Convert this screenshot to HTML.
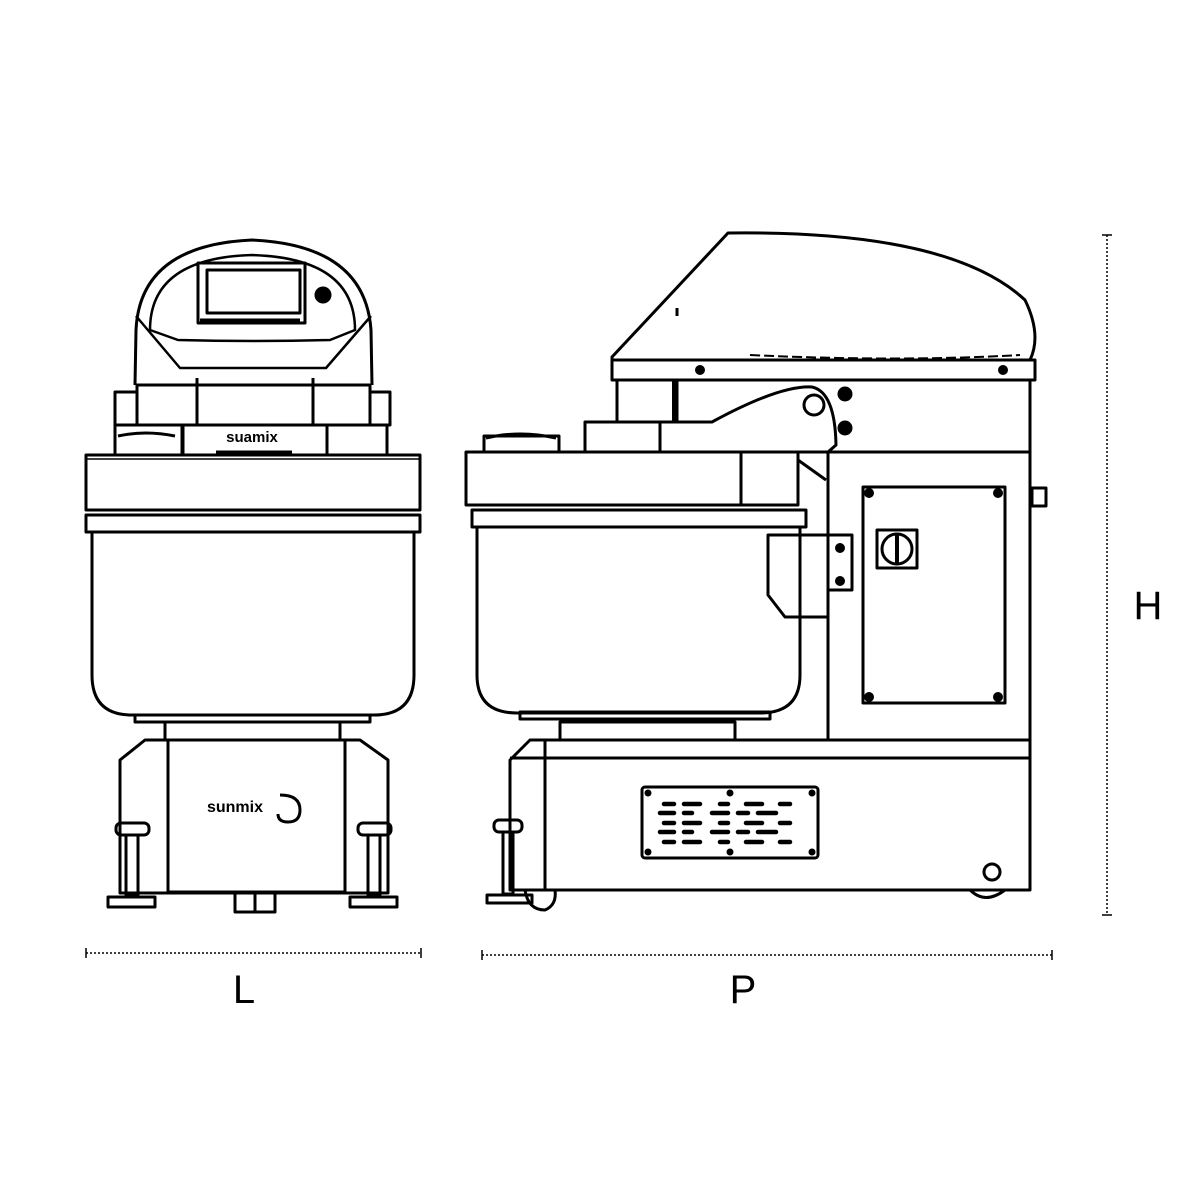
<!DOCTYPE html>
<html><head><style>html,body{margin:0;padding:0;background:#fff}svg{display:block}</style></head>
<body>
<svg width="1200" height="1200" viewBox="0 0 1200 1200" xmlns="http://www.w3.org/2000/svg" fill="none" stroke="#000" stroke-width="3" stroke-linejoin="round">
<!-- LEFT VIEW -->
<path d="M135,385 L136,330 Q140,245 252,240 Q365,245 371,330 L372,385"/>
<path d="M150,330 Q150,258 252,255 Q355,258 355,330 L330,340 Q252,342 178,340 Z" stroke-width="2.5"/>
<path d="M136,316 L180,368 L326,368 L371,316" stroke-width="2.5"/>
<rect x="198" y="263" width="107" height="60"/>
<rect x="207" y="270" width="93" height="43"/>
<line x1="200" y1="320" x2="300" y2="320"/>
<circle cx="323" cy="295" r="7" fill="#000"/>
<rect x="137" y="385" width="233" height="40"/>
<line x1="197" y1="378" x2="197" y2="425"/><line x1="313" y1="378" x2="313" y2="425"/>
<rect x="115" y="392" width="22" height="33"/><rect x="370" y="392" width="20" height="33"/>
<rect x="115" y="425" width="68" height="30"/><rect x="327" y="425" width="60" height="30"/>
<rect x="182" y="425" width="145" height="30"/>
<path d="M118,436 Q145,430 175,436"/>
<text x="252" y="442" font-family="Liberation Sans,sans-serif" font-size="15" font-weight="bold" fill="#000" stroke="none" text-anchor="middle">suamix</text>
<line x1="216" y1="452" x2="292" y2="452"/>
<rect x="86" y="455" width="334" height="55"/>
<line x1="86" y1="459" x2="420" y2="459" stroke-width="1.5"/>
<rect x="86" y="515" width="334" height="17"/>
<path d="M92,532 L92,675 Q92,715 132,715 L374,715 Q414,715 414,675 L414,532"/>
<rect x="135" y="715" width="235" height="7"/>
<rect x="165" y="722" width="175" height="18"/>
<path d="M120,893 L120,760 L145,740 L360,740 L388,760 L388,893 Z"/>
<rect x="168" y="740" width="177" height="152"/>
<text x="235" y="812" font-family="Liberation Sans,sans-serif" font-size="16" font-weight="bold" fill="#000" stroke="none" text-anchor="middle">sunmix</text>
<path d="M280,795 q20,0 20,15 q0,12 -12,12 q-10,0 -10,-8" stroke-width="3"/>
<rect x="116" y="823" width="33" height="12" rx="5" stroke-width="3"/>
<rect x="358" y="823" width="33" height="12" rx="5" stroke-width="3"/>
<rect x="126" y="835" width="12" height="60"/><rect x="368" y="835" width="12" height="60"/>
<rect x="108" y="897" width="47" height="10"/><rect x="350" y="897" width="47" height="10"/>
<rect x="235" y="892" width="40" height="20"/><line x1="255" y1="892" x2="255" y2="912"/>
<!-- RIGHT VIEW -->
<path d="M612,380 L612,357 L728,233 Q950,230 1025,300 Q1042,335 1030,360 L612,360"/>
<path d="M750,355 Q900,362 1020,355" stroke-dasharray="10 4" stroke-width="2"/>
<line x1="677" y1="308" x2="677" y2="316"/>
<rect x="612" y="360" width="423" height="20"/>
<circle cx="700" cy="370" r="3.5" fill="#000"/><circle cx="1003" cy="370" r="3.5" fill="#000"/>
<rect x="617" y="380" width="60" height="42"/><line x1="674" y1="380" x2="674" y2="422" stroke-width="4"/>
<rect x="585" y="422" width="75" height="30"/>
<path d="M660,452 L660,422 L712,422 Q780,385 812,387 Q835,392 836,445 L828,452 Z"/>
<circle cx="814" cy="405" r="10"/>
<circle cx="845" cy="394" r="6" fill="#000"/><circle cx="845" cy="428" r="6" fill="#000"/>
<line x1="828" y1="452" x2="1030" y2="452"/>
<line x1="828" y1="452" x2="828" y2="740"/>
<line x1="1030" y1="380" x2="1030" y2="890"/>
<rect x="1032" y="488" width="14" height="18"/>
<rect x="863" y="487" width="142" height="216"/>
<circle cx="869" cy="493" r="3.5" fill="#000"/><circle cx="998" cy="493" r="3.5" fill="#000"/>
<circle cx="869" cy="697" r="3.5" fill="#000"/><circle cx="998" cy="697" r="3.5" fill="#000"/>
<rect x="877" y="530" width="40" height="38"/><circle cx="897" cy="549" r="15"/><line x1="897" y1="535" x2="897" y2="563" stroke-width="4"/>
<rect x="466" y="452" width="275" height="53"/>
<rect x="741" y="452" width="57" height="53"/>
<line x1="798" y1="460" x2="826" y2="480"/>
<rect x="484" y="436" width="75" height="16"/>
<path d="M486,438 Q520,430 556,438"/>
<rect x="472" y="510" width="334" height="17"/>
<path d="M477,527 L477,675 Q477,713 517,713 L760,713 Q800,713 800,675 L800,527"/>
<path d="M768,535 L852,535 L852,590 L828,590 L828,617 L785,617 L768,595 Z"/>
<circle cx="840" cy="548" r="3.5" fill="#000"/><circle cx="840" cy="581" r="3.5" fill="#000"/>
<rect x="520" y="712" width="250" height="7"/>
<rect x="560" y="722" width="175" height="18"/>
<path d="M510,890 L510,760 L530,740 L1030,740 L1030,890 Z"/>
<line x1="510" y1="758" x2="1030" y2="758"/>
<line x1="545" y1="740" x2="545" y2="890"/>
<rect x="642" y="787" width="176" height="71" rx="3"/>
<g fill="#000" stroke="none">
<circle cx="648" cy="793" r="3.5"/><circle cx="730" cy="793" r="3.5"/><circle cx="812" cy="793" r="3.5"/>
<circle cx="648" cy="852" r="3.5"/><circle cx="730" cy="852" r="3.5"/><circle cx="812" cy="852" r="3.5"/>
</g>
<g stroke-width="4.5" stroke-linecap="round">
<path d="M664,804h10M684,804h16M720,804h8M746,804h16M780,804h10"/>
<path d="M660,813h14M684,813h8M712,813h16M738,813h10M758,813h18"/>
<path d="M664,823h10M684,823h16M720,823h8M746,823h16M780,823h10"/>
<path d="M660,832h14M684,832h8M712,832h16M738,832h10M758,832h18"/>
<path d="M664,842h10M684,842h16M720,842h8M746,842h16M780,842h10"/>
</g>
<circle cx="992" cy="872" r="8"/>
<path d="M970,890 Q985,905 1005,890"/>
<rect x="494" y="820" width="28" height="12" rx="5"/>
<rect x="503" y="832" width="10" height="62"/>
<rect x="487" y="895" width="45" height="8"/>
<path d="M525,890 Q528,910 545,910 Q557,905 555,890"/>
<!-- Dimensions -->
<g stroke-width="1.5" stroke-dasharray="2 2">
<line x1="86" y1="953" x2="421" y2="953"/>
<line x1="482" y1="955" x2="1052" y2="955"/>
<line x1="1107" y1="235" x2="1107" y2="915"/>
</g>
<g stroke-width="1.5">
<line x1="86" y1="948" x2="86" y2="958"/><line x1="421" y1="948" x2="421" y2="958"/>
<line x1="482" y1="950" x2="482" y2="960"/><line x1="1052" y1="950" x2="1052" y2="960"/>
<line x1="1102" y1="235" x2="1112" y2="235"/><line x1="1102" y1="915" x2="1112" y2="915"/>
</g>
<g font-family="Liberation Sans,sans-serif" font-size="40" fill="#000" stroke="none" text-anchor="middle">
<text x="244" y="1003" transform="scale(1,1)">L</text>
<text x="743" y="1003">P</text>
<text x="1148" y="619">H</text>
</g>
</svg>
</body></html>
